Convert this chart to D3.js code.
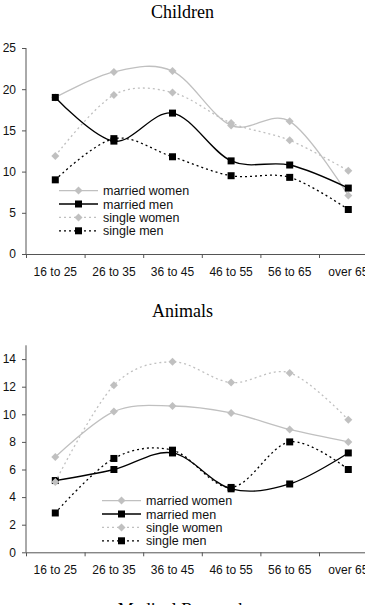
<!DOCTYPE html>
<html>
<head>
<meta charset="utf-8">
<script src="https://cdn.jsdelivr.net/npm/d3@7"></script>
<style>
  body { margin: 0; background: #fff; }
  svg { display: block; }
</style>
</head>
<body>
<div id="chart"></div>
<script>
// age groups on the x axis
var categories = ['16 to 25', '26 to 35', '36 to 45', '46 to 55', '56 to 65', 'over 65'];
var seriesNames = ['married women', 'married men', 'single women', 'single men'];

// Children panel
var childrenMarriedWomen = [19.0, 22.1, 22.2, 15.6, 16.1, 7.1];
var childrenMarriedMen = [19.0, 13.7, 17.1, 11.3, 10.8, 8.0];
var childrenSingleWomen = [11.9, 19.3, 19.6, 15.9, 13.8, 10.1];
var childrenSingleMen = [9.0, 14.0, 11.8, 9.5, 9.3, 5.4];
var childrenTicks = [0, 5, 10, 15, 20, 25];

// Animals panel
var animalsMarriedWomen = [6.9, 10.2, 10.6, 10.1, 8.9, 8.0];
var animalsMarriedMen = [5.2, 6.0, 7.2, 4.6, 4.95, 7.2];
var animalsSingleWomen = [5.1, 12.1, 13.8, 12.3, 13.0, 9.6];
var animalsSingleMen = [2.85, 6.8, 7.4, 4.7, 8.0, 6.0];
var animalsTicks = [0, 2, 4, 6, 8, 10, 12, 14];

var width = 365;
var height = 605;
var grey = '#c0c0c0';

// style per series: line colour, dash, marker shape
var styles = [
  { color: grey, dash: null, marker: 'diamond' },
  { color: '#000', dash: null, marker: 'square' },
  { color: grey, dash: '2,3', marker: 'diamond' },
  { color: '#000', dash: '2,3', marker: 'square' }
];

var svg = d3.select('#chart').append('svg')
  .attr('width', width)
  .attr('height', height);

function drawPanel(opts) {
  var g = svg.append('g');

  g.append('text')
    .attr('x', width / 2)
    .attr('y', opts.titleY)
    .attr('text-anchor', 'middle')
    .style('font-family', '"Liberation Serif", "Times New Roman", serif')
    .style('font-size', '18px')
    .text(opts.title);

  if (!opts.series) return;

  var left = 26;
  var band = 58.6;
  var x = d3.scaleBand().domain(categories).range([left, left + band * categories.length]);
  var xEdge = d3.scaleLinear().domain([0, categories.length]).range([left, left + band * categories.length]);
  var y = d3.scaleLinear().domain([0, opts.yMax]).range([opts.yZero, opts.yTop]);

  // y axis
  var yAxis = g.append('g')
    .attr('transform', 'translate(' + left + ',0)')
    .call(d3.axisLeft(y).tickValues(opts.ticks).tickSize(4).tickPadding(6).tickSizeOuter(0));
  yAxis.select('.domain').attr('d', 'M0,' + y(0) + 'V' + y(opts.yMax));

  // x axis: tick marks on category boundaries, labels at centres
  var xAxis = g.append('g')
    .attr('transform', 'translate(0,' + y(0) + ')')
    .call(d3.axisBottom(xEdge).tickValues(d3.range(categories.length + 1)).tickFormat('').tickSize(4).tickSizeOuter(0));
  var xLabels = g.append('g')
    .attr('transform', 'translate(0,' + y(0) + ')')
    .call(d3.axisBottom(x).tickSize(0).tickPadding(13));
  xLabels.select('.domain').remove();

  [yAxis, xAxis, xLabels].forEach(function (a) {
    a.selectAll('.domain, line').attr('stroke', '#555');
    a.selectAll('text')
      .attr('fill', '#111')
      .style('font-family', '"Liberation Sans", Arial, sans-serif')
      .style('font-size', '12px');
  });

  var line = d3.line()
    .x(function (d, i) { return x(categories[i]) + x.bandwidth() / 2; })
    .y(function (d) { return y(d); })
    .curve(d3.curveCardinal.tension(0));

  opts.series.forEach(function (vals, s) {
    var st = styles[s];
    g.append('path')
      .attr('d', line(vals))
      .attr('fill', 'none')
      .attr('stroke', st.color)
      .attr('stroke-width', 1.3)
      .attr('stroke-dasharray', st.dash);
    vals.forEach(function (v, i) {
      drawMarker(g, st, x(categories[i]) + x.bandwidth() / 2, y(v));
    });
  });

  // legend
  var lg = g.append('g');
  seriesNames.forEach(function (name, s) {
    var st = styles[s];
    var ly = opts.legendY + s * 13.4;
    lg.append('line')
      .attr('x1', opts.legendX).attr('x2', opts.legendX + 39)
      .attr('y1', ly).attr('y2', ly)
      .attr('stroke', st.color)
      .attr('stroke-width', 1.3)
      .attr('stroke-dasharray', st.dash);
    drawMarker(lg, st, opts.legendX + 19.5, ly);
    lg.append('text')
      .attr('x', opts.legendX + 44)
      .attr('y', ly + 4.5)
      .style('font-family', '"Liberation Sans", Arial, sans-serif')
      .style('font-size', '12.5px')
      .attr('fill', '#111')
      .text(name);
  });
}

function drawMarker(g, st, cx, cy) {
  if (st.marker === 'square') {
    g.append('rect')
      .attr('x', cx - 3.5).attr('y', cy - 3.5)
      .attr('width', 7).attr('height', 7)
      .attr('fill', '#000');
  } else {
    g.append('path')
      .attr('d', 'M' + cx + ',' + (cy - 4) + 'L' + (cx + 4) + ',' + cy + 'L' + cx + ',' + (cy + 4) + 'L' + (cx - 4) + ',' + cy + 'Z')
      .attr('fill', grey);
  }
}

drawPanel({
  title: 'Children', titleY: 18,
  yMax: 25, ticks: childrenTicks, yZero: 254, yTop: 48,
  series: [childrenMarriedWomen, childrenMarriedMen, childrenSingleWomen, childrenSingleMen],
  legendX: 59, legendY: 190.6
});

drawPanel({
  title: 'Animals', titleY: 317,
  yMax: 15, ticks: animalsTicks, yZero: 552.3, yTop: 345.3,
  series: [animalsMarriedWomen, animalsMarriedMen, animalsSingleWomen, animalsSingleMen],
  legendX: 102, legendY: 500.6
});

drawPanel({ title: 'Medical Research', titleY: 616 });
</script>
</body>
</html>
